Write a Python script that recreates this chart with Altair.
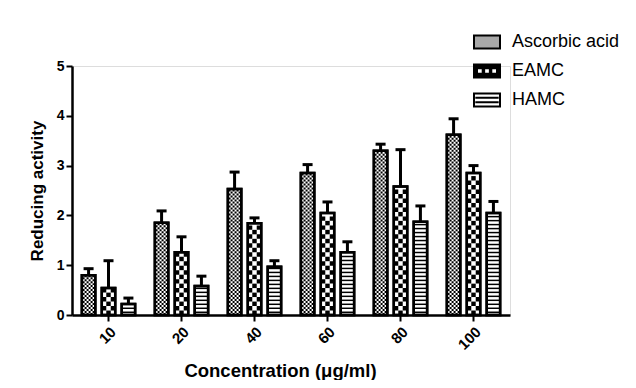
import altair as alt
import pandas as pd

conc = ["10", "20", "40", "60", "80", "100"]
series = ["Ascorbic acid", "EAMC", "HAMC"]
asc = [0.80, 1.85, 2.53, 2.85, 3.30, 3.62]
asc_err = [0.13, 0.24, 0.34, 0.17, 0.13, 0.32]
eamc = [0.54, 1.26, 1.84, 2.05, 2.58, 2.85]
eamc_err = [0.55, 0.31, 0.11, 0.22, 0.74, 0.15]
hamc = [0.22, 0.58, 0.97, 1.26, 1.87, 2.05]
hamc_err = [0.12, 0.20, 0.12, 0.21, 0.32, 0.23]

rows = []
for s, vals, errs in [(series[0], asc, asc_err), (series[1], eamc, eamc_err), (series[2], hamc, hamc_err)]:
    for c, v, e in zip(conc, vals, errs):
        rows.append({"conc": c, "series": s, "value": v, "upper": v + e, "half": v / 2})
df = pd.DataFrame(rows)

# pattern helpers derived from the values
STRIPE = 0.08
CELL = 0.09
FINE = 0.04
stripes, center_cells, side_cells, fine_a, fine_b = [], [], [], [], []
for c, v in zip(conc, hamc):
    k = 0
    while (k + 1) * STRIPE <= v:
        lv = (k + 0.5) * STRIPE
        stripes.append({"conc": c, "series": "HAMC", "lo": lv, "hi": lv + 0.03})
        k += 1
for c, v in zip(conc, eamc):
    k = 0
    while (k + 1) * CELL <= v:
        lv = (k + 0.5) * CELL
        (center_cells if k % 2 == 0 else side_cells).append({"conc": c, "series": "EAMC", "lvl": lv})
        k += 1
for c, v in zip(conc, asc):
    k = 0
    while (k + 1) * FINE <= v:
        lv = (k + 0.5) * FINE
        (fine_a if k % 2 == 0 else fine_b).append({"conc": c, "series": "Ascorbic acid", "lvl": lv})
        k += 1
stripes = pd.DataFrame(stripes)
center_cells = pd.DataFrame(center_cells)
side_cells = pd.DataFrame(side_cells)
fine_a = pd.DataFrame(fine_a)
fine_b = pd.DataFrame(fine_b)

FONT = "Liberation Sans"
xenc = alt.X("conc:N", sort=conc, title="Concentration (\u03bcg/ml)",
             scale=alt.Scale(paddingInner=0.27, paddingOuter=0.135),
             axis=alt.Axis(labelAngle=-45, labelFont=FONT, labelFontSize=15, labelFontWeight="bold",
                           labelColor="black", domainColor="black", domainWidth=2.5,
                           tickColor="black", tickWidth=2, tickSize=6, labelPadding=3,
                           titleFont=FONT, titleFontSize=18.5, titleFontWeight="bold", titleColor="black",
                           titleX=208, titleY=61, titleBaseline="alphabetic"))
xoff = alt.XOffset("series:N", sort=series,
                   scale=alt.Scale(domain=series, paddingInner=0.325, paddingOuter=0))
yscale = alt.Scale(domain=[0, 5], nice=False)
yaxis = alt.Axis(values=[0, 1, 2, 3, 4, 5], grid=False, labelFont=FONT, labelFontSize=14,
                 labelFontWeight="bold", labelColor="black", domainColor="black", domainWidth=2.5,
                 tickColor="black", tickWidth=2, tickSize=6, labelPadding=2,
                 titleFont=FONT, titleFontSize=17, titleFontWeight="bold", titleColor="black",
                 titleX=-35, titleY=124.5, titleAlign="center", titleBaseline="middle", titleAngle=-90)

rect_path = "M-1,-0.5H1V0.5H-1Z"
eamc_path = ("M-1,-0.5H1V0.5H-1Z "
             "M-0.77,-0.22V0.22H-0.33V-0.22Z "
             "M-0.22,-0.22V0.22H0.22V-0.22Z "
             "M0.33,-0.22V0.22H0.77V-0.22Z")
hamc_path = "M-1,-0.5H1V0.5H-1Z M-0.9,-0.17H0.9 M-0.9,0.17H0.9"
center_cell_path = "M-0.33,-0.33H0.33V0.33H-0.33Z"
side_cell_path = "M-1,-0.33H-0.33V0.33H-1Z M0.33,-0.33H1V0.33H0.33Z"
fine_a_path = ("M-0.889,-0.148H-0.593V0.148H-0.889Z M-0.296,-0.148H0V0.148H-0.296Z "
               "M0.296,-0.148H0.593V0.148H0.296Z")
fine_b_path = ("M-0.593,-0.148H-0.296V0.148H-0.593Z M0,-0.148H0.296V0.148H0Z "
               "M0.593,-0.148H0.889V0.148H0.593Z")

leg = alt.Legend(title=None, orient="none", legendX=401, legendY=-38,
                 symbolSize=676, symbolStrokeColor="black", symbolStrokeWidth=2,
                 symbolOpacity=1, labelFont=FONT, labelFontSize=18,
                 labelColor="black", labelOffset=11, rowPadding=4)

legend_pts = alt.Chart(df).mark_point(filled=True, size=8, strokeWidth=2, opacity=1).encode(
    x=xenc, xOffset=xoff,
    y=alt.Y("half:Q", scale=yscale, axis=yaxis, title="Reducing activity"),
    fill=alt.Fill("series:N", sort=series,
                  scale=alt.Scale(domain=series, range=["#a8a8a8", "black", "white"]), legend=leg),
    stroke=alt.Stroke("series:N", sort=series,
                      scale=alt.Scale(domain=series, range=["black", "black", "black"]), legend=leg),
    shape=alt.Shape("series:N", sort=series,
                    scale=alt.Scale(domain=series, range=[rect_path, eamc_path, hamc_path]), legend=leg),
)

bars = alt.Chart(df).mark_bar(stroke="black", strokeWidth=2.5, fill="white").encode(
    x=xenc, xOffset=xoff,
    y=alt.Y("value:Q", scale=yscale, axis=yaxis, title="Reducing activity"),
)

stripe_layer = alt.Chart(stripes).mark_bar(color="black").encode(
    x=xenc, xOffset=xoff,
    y=alt.Y("lo:Q", scale=yscale), y2="hi:Q",
)

def cells(data, path):
    return alt.Chart(data).mark_point(shape=path, size=182, filled=True, color="black", opacity=1).encode(
        x=xenc, xOffset=xoff, y=alt.Y("lvl:Q", scale=yscale))

outline = alt.Chart(df).mark_bar(fill=None, stroke="black", strokeWidth=2.5, fillOpacity=0).encode(
    x=xenc, xOffset=xoff, y=alt.Y("value:Q", scale=yscale))

err = alt.Chart(df).mark_rule(color="black", strokeWidth=3).encode(
    x=xenc, xOffset=xoff, y=alt.Y("value:Q", scale=yscale), y2="upper:Q")
cap = alt.Chart(df).mark_tick(color="black", size=10, thickness=3, opacity=1).encode(
    x=xenc, xOffset=xoff, y=alt.Y("upper:Q", scale=yscale))

chart = alt.layer(legend_pts, bars, stripe_layer,
                  cells(center_cells, center_cell_path), cells(side_cells, side_cell_path),
                  cells(fine_a, fine_a_path), cells(fine_b, fine_b_path),
                  outline, err, cap).properties(
    width=438, height=249,
    autosize=alt.AutoSizeParams(type="none"),
    padding={"left": 64, "top": 58, "right": 118, "bottom": 65},
).configure_view(stroke=None).configure(background="white")

chart.save("out.html", embed_options={"renderer": "svg", "actions": False})
